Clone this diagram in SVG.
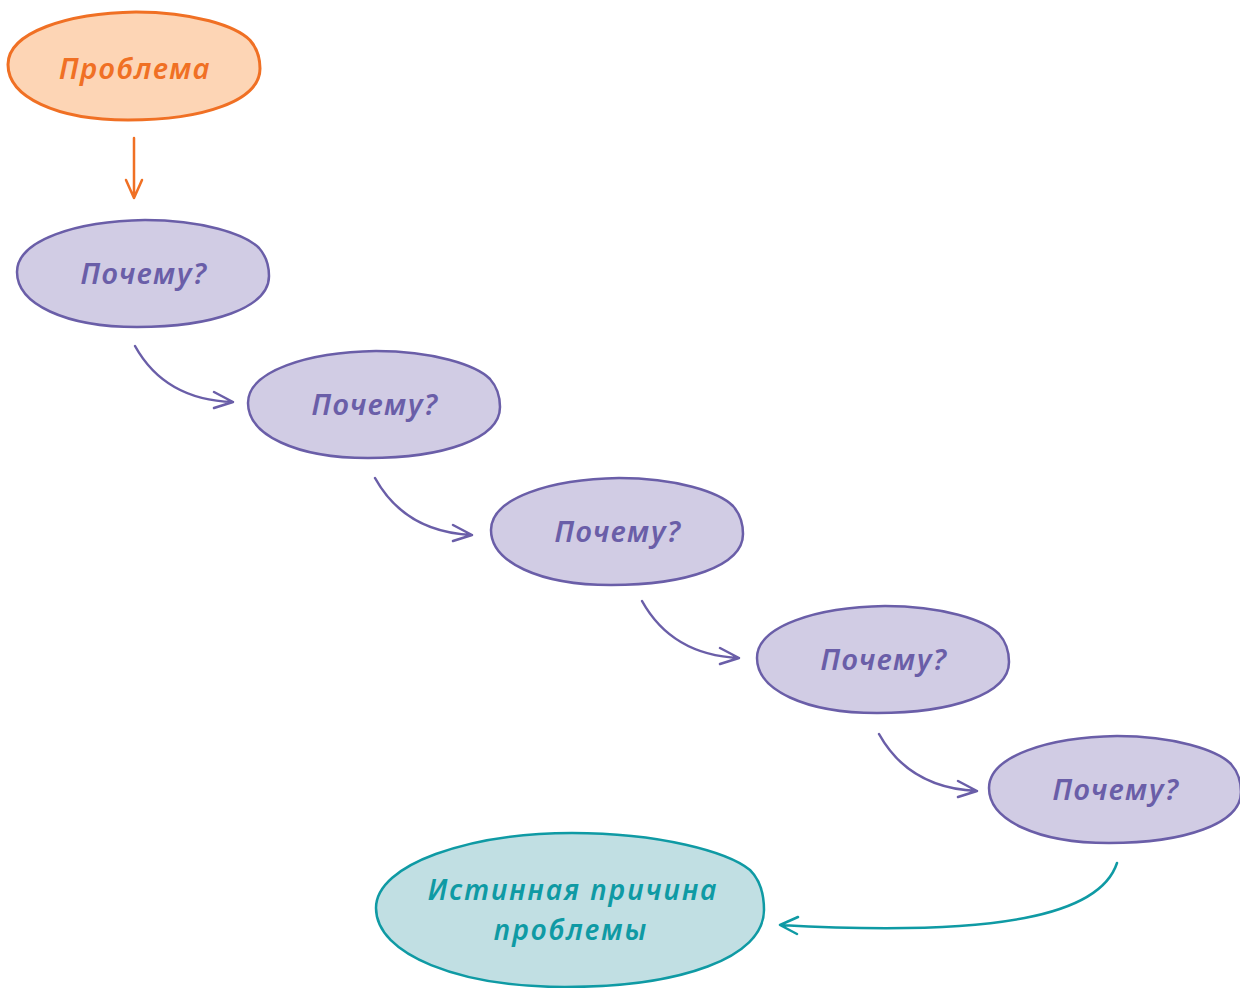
<svg xmlns="http://www.w3.org/2000/svg" width="1240" height="988" viewBox="0 0 1240 988">
<style>
.t{font-family:"Noto Sans","DejaVu Sans",sans-serif;font-style:italic;font-weight:600;font-size:29px;letter-spacing:1.5px;text-anchor:middle}
.r{font-size:28px;letter-spacing:2px}
.o{fill:#FDD5B5;stroke:#F07024;stroke-width:3}
.p{fill:#D1CCE4;stroke:#6A5EA8;stroke-width:2.5}
.g{fill:#C1DFE3;stroke:#0F9AA4;stroke-width:2.5}
.to{fill:#F07024}.tp{fill:#6A5EA8}.tg{fill:#0F9AA4}
.c{fill:none;stroke-width:2.5;stroke-linecap:round;stroke-linejoin:round}
</style>
<defs>
<path id="blob" d="M0 52 C0 20 60 1 128 0 C185 0 228 14 242 28 C250 37 252 46 252 56 C252 88 195 107 120 107 C48 107 0 84 0 52 Z"/>
</defs>
<g id="node-problem"><use href="#blob" class="o" transform="translate(8 12) scale(1 1.01)"/><text class="t to" x="135" y="79">Проблема</text></g>
<g id="node-why1"><use href="#blob" class="p" transform="translate(17 220)"/><text class="t tp" x="144" y="284">Почему?</text></g>
<g id="node-why2"><use href="#blob" class="p" transform="translate(248 351)"/><text class="t tp" x="375" y="415">Почему?</text></g>
<g id="node-why3"><use href="#blob" class="p" transform="translate(491 478)"/><text class="t tp" x="618" y="542">Почему?</text></g>
<g id="node-why4"><use href="#blob" class="p" transform="translate(757 606)"/><text class="t tp" x="884" y="670">Почему?</text></g>
<g id="node-why5"><use href="#blob" class="p" transform="translate(989 736)"/><text class="t tp" x="1116" y="800">Почему?</text></g>
<g id="node-root"><path class="g" d="M376 908 C376 864 470 833 572 833 C660 833 728 852 750 870 C760 880 764 895 764 910 C764 958 680 987 565 987 C460 987 376 955 376 908 Z"/><text class="t r tg" x="573" y="900">Истинная причина<tspan x="571" dy="39.5">проблемы</tspan></text></g>
<g id="connectors">
<path class="c" stroke="#F07024" d="M134 138 L134 198 M126 180 L134 198 L142 180"/>
<path class="c" stroke="#6A5EA8" d="M135 346 Q165 400 233 402 M214 392 L233 402 L214 408"/>
<path class="c" stroke="#6A5EA8" d="M375 478 Q405 532 472 535 M453 525 L472 535 L453 541"/>
<path class="c" stroke="#6A5EA8" d="M642 601 Q672 655 739 658 M720 648 L739 658 L720 664"/>
<path class="c" stroke="#6A5EA8" d="M879 734 Q909 788 977 791 M958 781 L977 791 L958 797"/>
<path class="c" stroke="#0F9AA4" d="M1117 863 C1100 915 1000 937 780 925 M798 917 L780 925 L797 934"/>
</g>
</svg>
